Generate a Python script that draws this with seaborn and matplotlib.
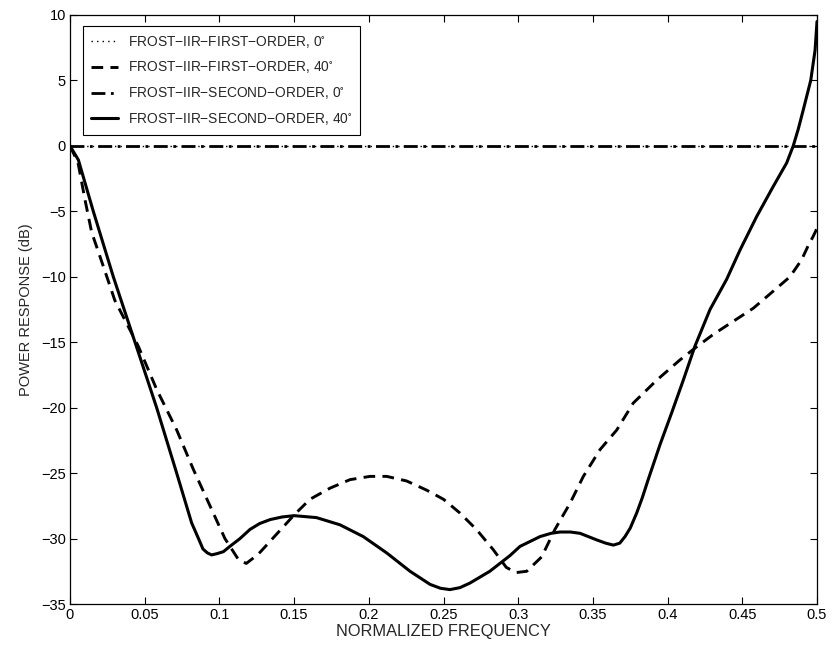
import numpy as np
import pandas as pd
import matplotlib
matplotlib.use("Agg")
import matplotlib.pyplot as plt
from matplotlib import font_manager
import seaborn as sns

# ---------------- data ----------------
labels = [
    r"FROST$-$IIR$-$FIRST$-$ORDER, 0$^{\circ}$",
    r"FROST$-$IIR$-$FIRST$-$ORDER, 40$^{\circ}$",
    r"FROST$-$IIR$-$SECOND$-$ORDER, 0$^{\circ}$",
    r"FROST$-$IIR$-$SECOND$-$ORDER, 40$^{\circ}$",
]

first0_x = [0.0, 0.5]
first0_y = [0.0, 0.0]

second0_x = [0.0, 0.5]
second0_y = [0.0, 0.0]

first40_x = [0.0, 0.0054, 0.010, 0.0145, 0.0223, 0.030, 0.039, 0.0457, 0.058, 0.0714,
             0.0825, 0.0937, 0.1037, 0.1127, 0.118, 0.126, 0.134, 0.1428, 0.15, 0.1606,
             0.174, 0.1874, 0.2008, 0.212, 0.2253, 0.2387, 0.25, 0.261, 0.272, 0.2833,
             0.292, 0.2985, 0.3057, 0.3157, 0.3246, 0.3347, 0.3436, 0.3548, 0.366, 0.377,
             0.3927, 0.4083, 0.4183, 0.4306, 0.444, 0.4574, 0.4707, 0.4819, 0.4897, 0.4942,
             0.4975, 0.5]
first40_y = [0.0, -1.3, -4.1, -6.6, -9.2, -11.8, -13.8, -15.3, -18.6, -21.7,
             -24.7, -27.5, -30.0, -31.6, -31.9, -31.2, -30.2, -29.1, -28.2, -27.0,
             -26.15, -25.5, -25.25, -25.25, -25.6, -26.3, -27.0, -28.05, -29.3, -30.85,
             -32.2, -32.6, -32.5, -31.4, -29.3, -27.3, -25.25, -23.2, -21.7, -19.65,
             -17.9, -16.35, -15.45, -14.4, -13.4, -12.4, -11.1, -10.0, -8.7, -7.6,
             -6.9, -6.3]

second40_x = [0.0, 0.0056, 0.010, 0.0156, 0.029, 0.0435, 0.058, 0.0714, 0.0814, 0.086,
              0.089, 0.092, 0.0948, 0.0985, 0.1027, 0.107, 0.1138, 0.1205, 0.127, 0.134,
              0.142, 0.15, 0.165, 0.1807, 0.1963, 0.212, 0.2276, 0.241, 0.248, 0.2543,
              0.261, 0.2677, 0.281, 0.2945, 0.3012, 0.3146, 0.322, 0.328, 0.335, 0.3414,
              0.3525, 0.3585, 0.3637, 0.368, 0.3715, 0.375, 0.3793, 0.383, 0.387, 0.395,
              0.4027, 0.4105, 0.4183, 0.4284, 0.4395, 0.4485, 0.4596, 0.4707, 0.4797, 0.4841,
              0.4875, 0.4908, 0.4958, 0.4987, 0.5]
second40_y = [0.0, -1.07, -2.8, -5.0, -10.0, -15.0, -20.0, -25.0, -28.8, -30.0,
              -30.8, -31.1, -31.25, -31.15, -31.0, -30.6, -30.0, -29.3, -28.85, -28.55,
              -28.35, -28.25, -28.4, -28.95, -29.85, -31.1, -32.5, -33.5, -33.8, -33.9,
              -33.75, -33.4, -32.5, -31.3, -30.6, -29.85, -29.6, -29.5, -29.5, -29.6,
              -30.1, -30.35, -30.5, -30.35, -29.85, -29.2, -28.05, -26.9, -25.5, -22.8,
              -20.4, -17.9, -15.3, -12.5, -10.2, -7.95, -5.4, -3.1, -1.3, 0.0,
              1.3, 2.75, 5.0, 7.3, 9.5]

x_ticks = [0, 0.05, 0.1, 0.15, 0.2, 0.25, 0.3, 0.35, 0.4, 0.45, 0.5]
x_ticklabels = ["0", "0.05", "0.1", "0.15", "0.2", "0.25", "0.3", "0.35", "0.4", "0.45", "0.5"]
y_ticks = [-35, -30, -25, -20, -15, -10, -5, 0, 5, 10]
y_ticklabels = ["\u221235", "\u221230", "\u221225", "\u221220", "\u221215", "\u221210", "\u22125", "0", "5", "10"]

# ---------------- style ----------------
sns.set_style("ticks")
plt.rcParams["font.family"] = ["Liberation Sans", "DejaVu Sans"]
plt.rcParams["mathtext.fontset"] = "custom"
plt.rcParams["mathtext.rm"] = "Liberation Sans"
plt.rcParams["mathtext.it"] = "Liberation Sans"
plt.rcParams["mathtext.default"] = "regular"

installed = {f.name for f in font_manager.fontManager.ttflist}
legend_family = "Liberation Sans Narrow" if "Liberation Sans Narrow" in installed else "Liberation Sans"
legend_size = 12.0 if legend_family == "Liberation Sans Narrow" else 9.9

fig = plt.figure(figsize=(8.32, 6.49), dpi=100)
ax = fig.add_axes([70 / 832, 45 / 649, 747 / 832, 589 / 649])

series = [
    (first0_x, first0_y, labels[0], (0, (1, 3)), 1.0),
    (first40_x, first40_y, labels[1], (0, (4, 2.5)), 2.1),
    (second0_x, second0_y, labels[2], (0, (5, 2, 1, 2)), 2.0),
    (second40_x, second40_y, labels[3], "-", 2.2),
]

for xs, ys, lab, ls, lw in series:
    df = pd.DataFrame({"x": xs, "y": ys})
    sns.lineplot(data=df, x="x", y="y", ax=ax, color="black", linestyle=ls,
                 linewidth=lw, label=lab, estimator=None, sort=True)

ax.set_xlim(0, 0.5)
ax.set_ylim(-35, 10)
ax.set_xticks(x_ticks)
ax.set_xticklabels(x_ticklabels)
ax.set_yticks(y_ticks)
ax.set_yticklabels(y_ticklabels)
ax.tick_params(direction="in", length=5, width=0.8, top=True, right=True,
               labelsize=10.5, colors="black", pad=3)
for s in ax.spines.values():
    s.set_visible(True)
    s.set_linewidth(0.9)
    s.set_color("black")

ax.set_xlabel("NORMALIZED FREQUENCY", fontsize=11.8, labelpad=1)
ax.set_ylabel("POWER RESPONSE (dB)", fontsize=10.5, labelpad=6)

leg = ax.legend(loc="upper left", bbox_to_anchor=(13 / 747, 1 - 11 / 589),
                borderaxespad=0, frameon=True, fancybox=False,
                prop={"family": [legend_family, "DejaVu Sans"], "size": legend_size},
                edgecolor="black", framealpha=1, handlelength=2.0,
                labelspacing=0.72, borderpad=0.55, handletextpad=0.7)
leg.get_frame().set_linewidth(0.8)

fig.savefig("out.png", dpi=100)
